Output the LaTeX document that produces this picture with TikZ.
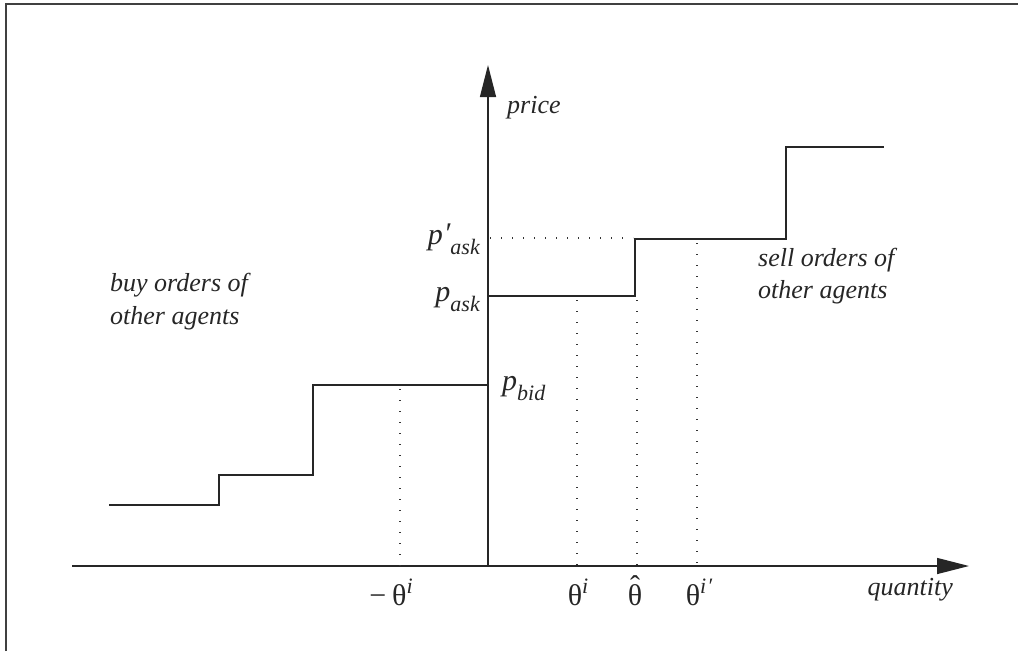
\documentclass[tikz,border=0pt]{standalone}
\usepackage{fontspec}
\setmainfont{Liberation Serif}
\usetikzlibrary{arrows.meta}
\newcommand{\mysub}[1]{\raisebox{-10pt}{\fontsize{22}{22}\selectfont\itshape #1}}
\newcommand{\mysup}[1]{\raisebox{12pt}{\fontsize{22}{22}\selectfont\itshape #1}}
\newcommand{\hatth}{\ooalign{θ\cr\hidewidth\raisebox{9pt}{ˆ}\hidewidth\cr}}
\tikzset{
  lbl/.style={inner sep=0pt, font=\fontsize{26}{32}\selectfont, text=black!85},
  mlbl/.style={inner sep=0pt, font=\fontsize{30}{34}\selectfont, text=black!85},
  axisline/.style={line width=1.4pt, black!85, -{Triangle[length=32pt,width=16pt]}},
  stepline/.style={line width=1.8pt, black!85},
  guide/.style={line width=1.2pt, black!80, dash pattern=on 1.2pt off 9.8pt},
  frameline/.style={line width=2.2pt, black!75}
}
\begin{document}
\begin{tikzpicture}[x=1pt,y=-1pt]
\useasboundingbox (0,0) rectangle (1018,651);
% partial frame
\coordinate (fA) at (6,651);
\coordinate (fB) at (6,4);
\coordinate (fC) at (1018,4);
\draw[frameline] (fA) -- (fB) -- (fC);
% axes
\coordinate (O) at (488,566);
\coordinate (xs) at (72,566);
\coordinate (xe) at (969,566);
\coordinate (ye) at (488,65);
\draw[axisline] (xs) -- (xe);
\draw[axisline] (O) -- (ye);
% ask side steps
\coordinate (a0) at (488,296);
\coordinate (a1) at (635,296);
\coordinate (a2) at (635,239);
\coordinate (a3) at (786,239);
\coordinate (a4) at (786,147);
\coordinate (a5) at (884,147);
\draw[stepline] (a0) -- (a1) -- (a2) -- (a3) -- (a4) -- (a5);
% bid side steps
\coordinate (b0) at (488,385);
\coordinate (b1) at (313,385);
\coordinate (b2) at (313,475);
\coordinate (b3) at (219,475);
\coordinate (b4) at (219,505);
\coordinate (b5) at (109,505);
\draw[stepline] (b0) -- (b1) -- (b2) -- (b3) -- (b4) -- (b5);
% dotted guides
\coordinate (g0) at (490,238);
\coordinate (g1) at (633,238);
\draw[guide] (g0) -- (g1);
\coordinate (d1t) at (400,389);
\coordinate (d1b) at (400,566);
\coordinate (d2t) at (577,300);
\coordinate (d2b) at (577,566);
\coordinate (d3t) at (637,300);
\coordinate (d3b) at (637,566);
\coordinate (d4t) at (697,243);
\coordinate (d4b) at (697,566);
\draw[guide] (d1t) -- (d1b);
\draw[guide] (d2t) -- (d2b);
\draw[guide] (d3t) -- (d3b);
\draw[guide] (d4t) -- (d4b);
% labels
\node[lbl, anchor=base west] (price) at (507,113) {\itshape price};
\node[lbl, anchor=base east] (qty) at (953,595) {\itshape quantity};
\node[mlbl, anchor=base west] (pbid) at (502,390) {\itshape p\mysub{bid}};
\node[mlbl, anchor=base east] (pask) at (480,301) {\itshape p\mysub{ask}};
\node[mlbl, anchor=base east] (paskp) at (480,244) {\itshape p\kern1pt\raisebox{1pt}{′}\mysub{ask}};
\node[mlbl, anchor=base] (mth) at (391,605) {−\kern6pt θ\mysup{i}};
\node[mlbl, anchor=base] (th) at (578,605) {θ\mysup{i}};
\node[mlbl, anchor=base] (thhat) at (635,605) {\hatth};
\node[mlbl, anchor=base] (thp) at (699,605) {θ\mysup{i\kern1pt′}};
\node[lbl, anchor=base west, align=left] (buy) at (110,324) {\itshape buy orders of\\[1pt]\itshape other agents};
\node[lbl, anchor=base west, align=left] (sell) at (758,298) {\itshape sell orders of\\[0pt]\itshape other agents};
\end{tikzpicture}
\end{document}
